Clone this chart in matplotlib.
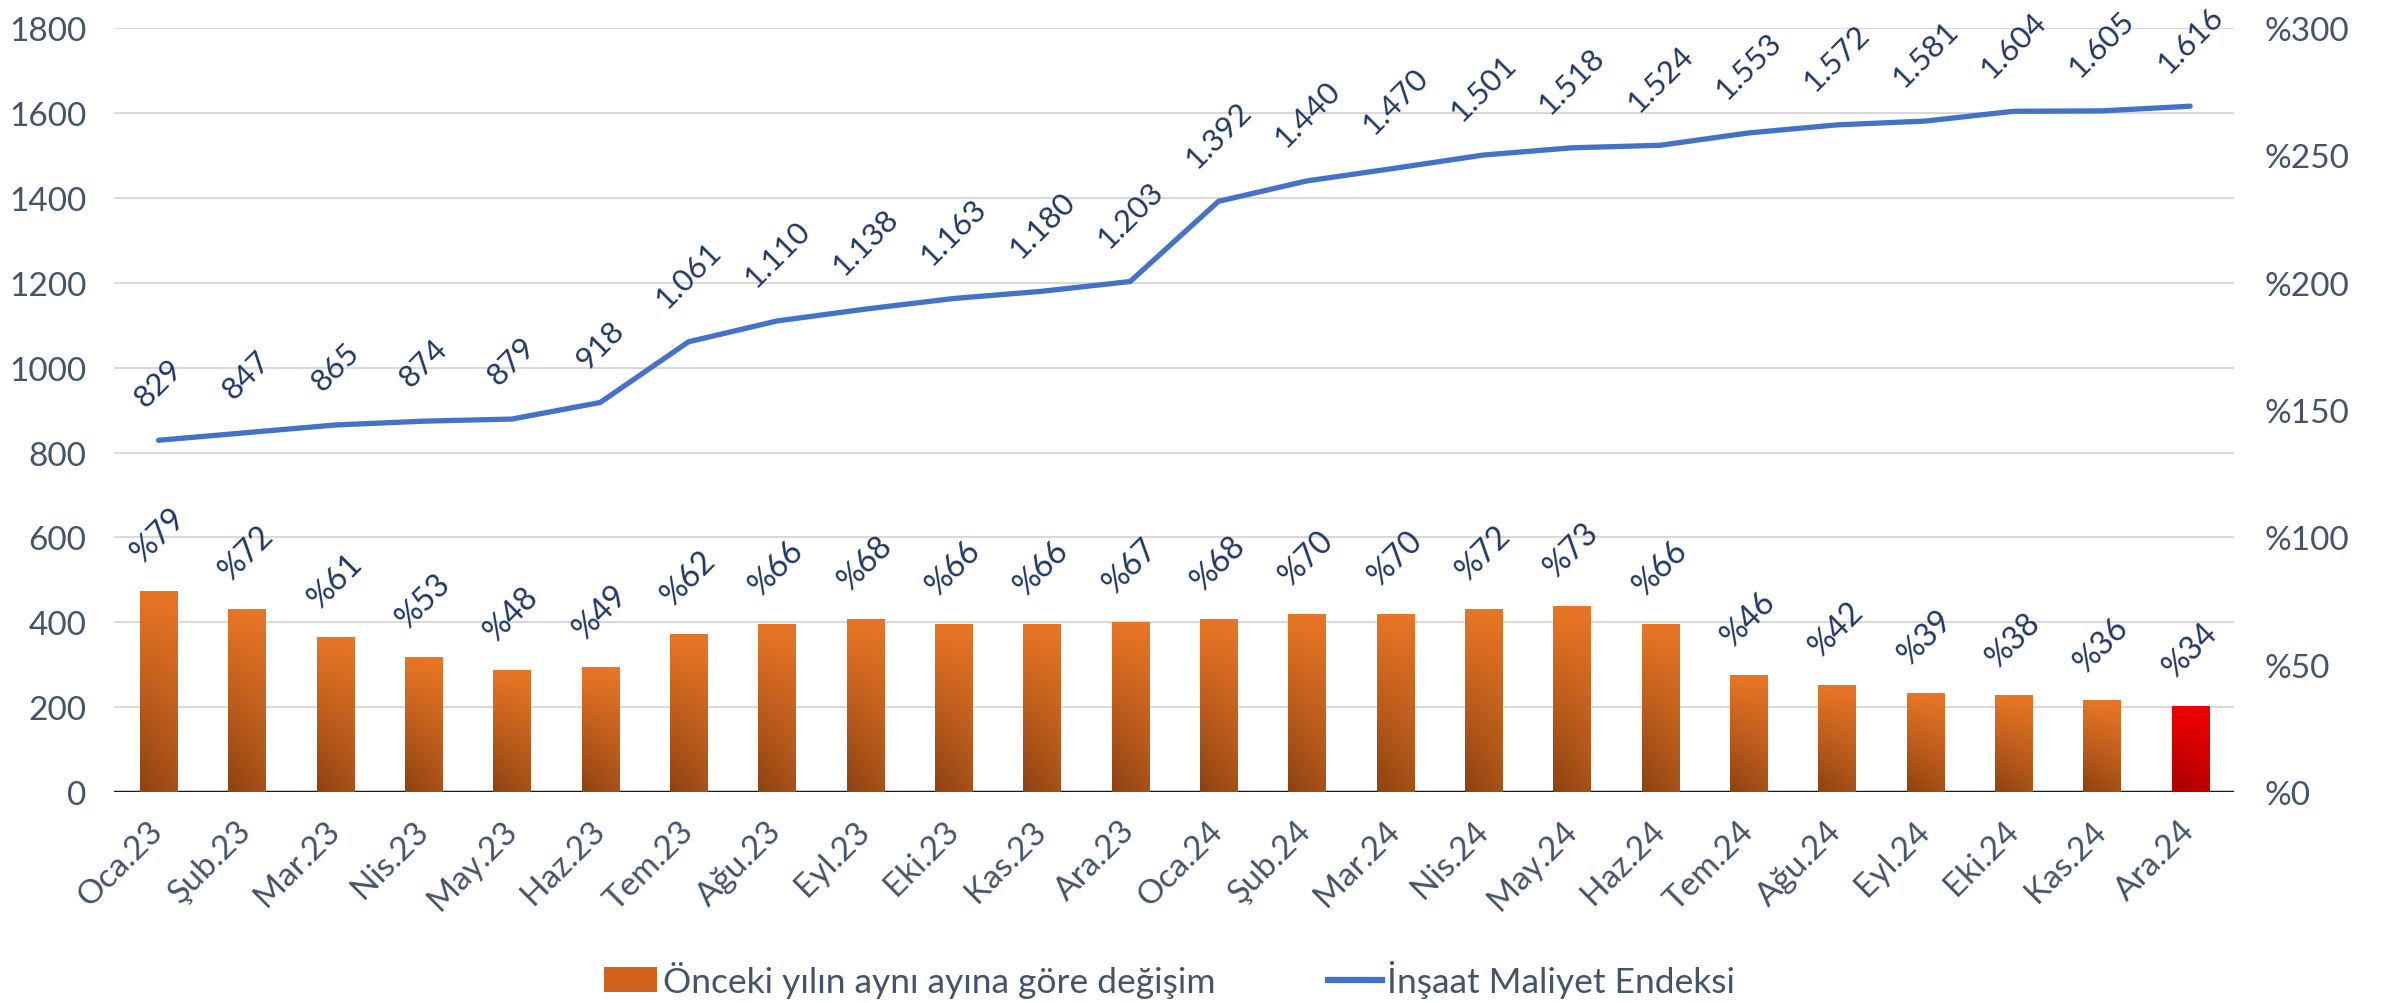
import numpy as np
import matplotlib
matplotlib.use('Agg')
import matplotlib.pyplot as plt
from matplotlib.colors import LinearSegmentedColormap
from matplotlib.lines import Line2D
from matplotlib.patches import Patch

# Veriler
months = ['Oca.23', 'Şub.23', 'Mar.23', 'Nis.23', 'May.23', 'Haz.23', 'Tem.23', 'Ağu.23',
          'Eyl.23', 'Eki.23', 'Kas.23', 'Ara.23', 'Oca.24', 'Şub.24', 'Mar.24', 'Nis.24',
          'May.24', 'Haz.24', 'Tem.24', 'Ağu.24', 'Eyl.24', 'Eki.24', 'Kas.24', 'Ara.24']
yoy_change = [79, 72, 61, 53, 48, 49, 62, 66, 68, 66, 66, 67,
              68, 70, 70, 72, 73, 66, 46, 42, 39, 38, 36, 34]
cost_index = [829, 847, 865, 874, 879, 918, 1061, 1110, 1138, 1163, 1180, 1203,
              1392, 1440, 1470, 1501, 1518, 1524, 1553, 1572, 1581, 1604, 1605, 1616]
left_ticks = [0, 200, 400, 600, 800, 1000, 1200, 1400, 1600, 1800]
right_ticks = [0, 50, 100, 150, 200, 250, 300]

bar_label = 'Önceki yılın aynı ayına göre değişim'
line_label = 'İnşaat Maliyet Endeksi'

TICK_COLOR = '#44546A'
LABEL_COLOR = '#1F3864'
LINE_COLOR = '#4472C4'

plt.rcParams['font.family'] = ['Lato', 'DejaVu Sans']


def gradient_image(top, bottom):
    """Dikey + hafif çapraz geçişli renk dizisi"""
    h, w = 100, 20
    yy, xx = np.mgrid[0:h, 0:w]
    t = 1 - yy / (h - 1)  # üst = 1
    s = xx / (w - 1)
    k = np.clip(0.85 * t + 0.25 * s * (1 - t), 0, 1)
    cmap = LinearSegmentedColormap.from_list('g', [bottom, top])
    return cmap(k)


def fmt_thousands(v):
    return f'{v:,}'.replace(',', '.')


def main() -> None:
    fig = plt.figure(figsize=(23.82, 10.04), dpi=100)
    ax = fig.add_axes([0.048, 0.21, 0.890, 0.761])
    ax2 = ax.twinx()

    x = np.arange(len(months))

    # Çubuklar (sağ eksen) - degrade dolgu
    bars = ax2.bar(x, yoy_change, width=0.42, color='none', edgecolor='none', zorder=2)
    for i, b in enumerate(bars):
        if i == len(bars) - 1:
            img = gradient_image('#FF0000', '#A80000')
        else:
            img = gradient_image('#FA7F28', '#8C4212')
        bx, by = b.get_x(), b.get_y()
        im = ax2.imshow(img, extent=[bx, bx + b.get_width(), by, by + b.get_height()],
                        aspect='auto', zorder=2, interpolation='bilinear')
        im.set_clip_path(b)
    for xi, v in zip(x, yoy_change):
        ax2.annotate(f'%{v}', (xi, v), xytext=(0, 17), textcoords='offset points',
                     ha='center', va='bottom', rotation=45, fontsize=23, color=LABEL_COLOR)

    # Çizgi (sol eksen)
    ax.plot(x, cost_index, color=LINE_COLOR, lw=3.8, zorder=3, solid_capstyle='round')
    for xi, v in zip(x, cost_index):
        ax.annotate(fmt_thousands(v), (xi, v), xytext=(0, 21), textcoords='offset points',
                    ha='center', va='bottom', rotation=45, fontsize=22.5, color=LABEL_COLOR)

    ax.set_xlim(-0.5, len(months) - 0.5)
    ax.set_ylim(0, 1800)
    ax2.set_ylim(0, 300)
    ax.set_yticks(left_ticks)
    ax2.set_yticks(right_ticks)
    ax2.set_yticklabels([f'%{t}' for t in right_ticks])

    ax.grid(axis='y', color='#D9D9D9', lw=1.5)
    ax.set_axisbelow(True)
    for a in (ax, ax2):
        for sp in a.spines.values():
            sp.set_visible(False)
        a.tick_params(length=0, labelsize=24, labelcolor=TICK_COLOR)
    ax.tick_params(axis='y', pad=20)
    ax2.tick_params(axis='y', pad=22)
    ax.axhline(0, color='#1A1A1A', lw=2.5, zorder=4)

    ax.set_xticks(x)
    ax.set_xticklabels(months, rotation=45, ha='right', va='center', rotation_mode='anchor')
    ax.tick_params(axis='x', pad=24)

    handles = [Patch(facecolor='#D0621E', edgecolor='none'),
               Line2D([0], [0], color=LINE_COLOR, lw=4.5)]
    fig.legend(handles, [bar_label, line_label], loc='center', bbox_to_anchor=(0.491, 0.024),
               ncol=2, frameon=False, fontsize=25.5, labelcolor=TICK_COLOR,
               handlelength=1.5, handletextpad=0.15, columnspacing=3.2)

    fig.savefig('out.png', dpi=100)


if __name__ == '__main__':
    main()
